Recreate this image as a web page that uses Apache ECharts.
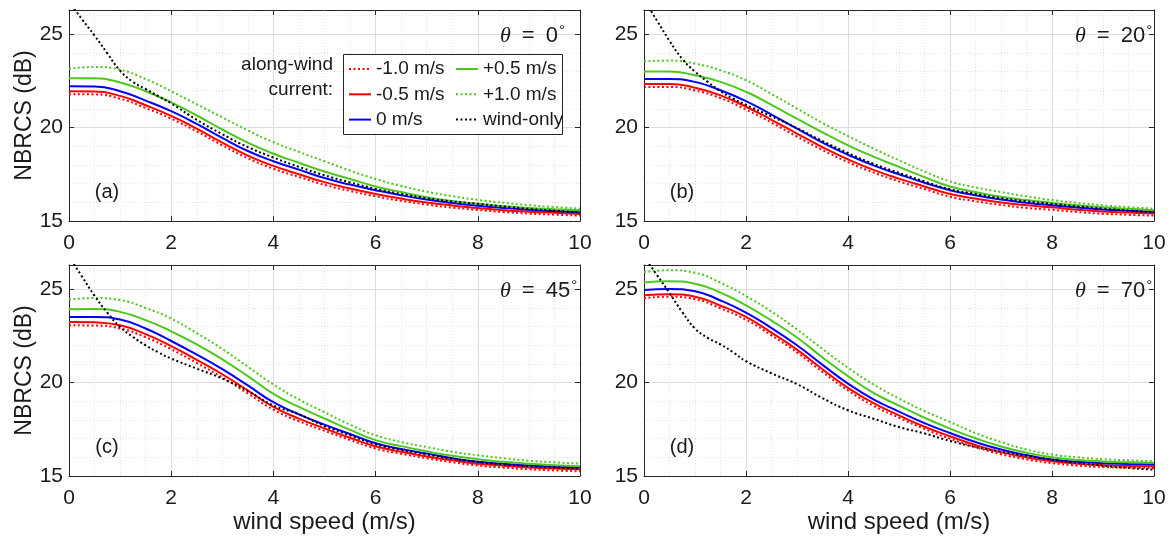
<!DOCTYPE html>
<html><head><meta charset="utf-8">
<script src="https://cdn.jsdelivr.net/npm/echarts@6/dist/echarts.min.js"></script>
<style>html,body{margin:0;padding:0;background:#fff}#c{width:1171px;height:544px}</style>
</head><body><div id="c"></div>
<script>
// ---------------- data ----------------
// x samples for the along-wind current curves
const windSpeed = [0,0.5,1,1.5,2,2.5,3,3.5,4,4.5,5,5.5,6,6.5,7,7.5,8,8.5,9,9.5,10];
// x samples for the wind-only curves (finer near the origin)
const windSpeedWO = [0,0.25,0.5,0.75,1,1.25,1.5,1.75,2,2.5,3,3.5,4,4.5,5,5.5,6,6.5,7,7.5,8,8.5,9,9.5,10];
const xTickStep = 2;
const yTickStep = 5;
const seriesNames = ['-1.0 m/s','-0.5 m/s','0 m/s','+0.5 m/s','+1.0 m/s','wind-only'];
const panelAngles = ['0','20','45','70'];
const panelLetters = ['(a)','(b)','(c)','(d)'];

// panel (a) theta = 0
const a_m10 = [21.79,21.78,21.55,21.05,20.48,19.8,19.05,18.36,17.8,17.36,16.94,16.61,16.32,16.08,15.88,15.72,15.59,15.48,15.4,15.34,15.29];
const a_m05 = [21.95,21.93,21.7,21.2,20.63,19.95,19.2,18.5,17.95,17.5,17.08,16.74,16.45,16.2,15.99,15.83,15.7,15.58,15.5,15.44,15.38];
const a_c0  = [22.21,22.2,21.95,21.45,20.88,20.2,19.45,18.75,18.2,17.75,17.3,16.95,16.65,16.38,16.15,15.97,15.82,15.7,15.6,15.53,15.47];
const a_p05 = [22.64,22.64,22.42,21.95,21.35,20.65,19.9,19.2,18.6,18.12,17.65,17.25,16.85,16.55,16.27,16.07,15.92,15.8,15.7,15.63,15.57];
const a_p10 = [23.16,23.25,23.1,22.6,21.95,21.25,20.55,19.85,19.22,18.7,18.2,17.7,17.25,16.88,16.57,16.33,16.13,15.98,15.85,15.75,15.66];
const a_wind = [26.75,25.82,24.93,23.98,23.05,22.45,22.07,21.68,21.3,20.42,19.65,18.96,18.4,17.9,17.45,17.07,16.72,16.45,16.22,16.05,15.92,15.78,15.65,15.55,15.45];

// panel (b) theta = 20
const b_m10 = [22.18,22.18,21.99,21.58,20.96,20.27,19.52,18.8,18.15,17.6,17.12,16.71,16.3,16.06,15.86,15.7,15.6,15.48,15.39,15.33,15.29];
const b_m05 = [22.34,22.34,22.14,21.73,21.12,20.42,19.68,18.95,18.3,17.74,17.27,16.85,16.45,16.2,15.99,15.84,15.73,15.6,15.51,15.45,15.4];
const b_c0  = [22.6,22.6,22.45,22.0,21.42,20.7,19.95,19.2,18.55,17.98,17.5,17.05,16.65,16.38,16.15,15.98,15.84,15.72,15.62,15.55,15.49];
const b_p05 = [23.0,23.01,22.8,22.45,21.92,21.22,20.48,19.75,19.05,18.45,17.9,17.35,16.85,16.55,16.3,16.12,15.97,15.84,15.73,15.65,15.58];
const b_p10 = [23.55,23.59,23.43,23.07,22.54,21.8,21.02,20.25,19.55,18.88,18.25,17.65,17.12,16.8,16.55,16.32,16.12,15.97,15.84,15.74,15.66];
const b_wind = [26.85,25.75,24.65,23.68,23.0,22.45,21.95,21.55,21.22,20.6,19.97,19.28,18.64,18.06,17.58,17.12,16.7,16.45,16.22,16.05,15.92,15.78,15.66,15.56,15.46];

// panel (c) theta = 45
const c_m10 = [23.07,23.06,22.9,22.43,21.79,21.05,20.28,19.42,18.55,17.93,17.42,16.93,16.47,16.19,15.95,15.74,15.56,15.45,15.36,15.3,15.25];
const c_m05 = [23.25,23.23,23.07,22.6,21.96,21.22,20.45,19.58,18.7,18.07,17.55,17.05,16.59,16.3,16.05,15.84,15.66,15.55,15.46,15.4,15.36];
const c_c0  = [23.52,23.52,23.38,22.9,22.23,21.5,20.72,19.85,18.95,18.3,17.75,17.25,16.75,16.45,16.2,15.95,15.76,15.65,15.56,15.5,15.45];
const c_p05 = [23.93,23.95,23.79,23.35,22.75,22.05,21.25,20.35,19.4,18.7,18.08,17.47,16.92,16.6,16.32,16.08,15.9,15.76,15.65,15.57,15.52];
const c_p10 = [24.45,24.53,24.42,24.0,23.43,22.65,21.8,20.85,19.9,19.1,18.42,17.75,17.18,16.82,16.55,16.3,16.11,15.95,15.82,15.73,15.66];
const c_wind = [26.75,25.7,24.65,23.75,22.98,22.45,22.0,21.62,21.29,20.75,20.22,19.55,18.78,18.3,17.68,17.18,16.7,16.4,16.15,15.93,15.75,15.62,15.52,15.45,15.4];

// panel (d) theta = 70
const d_m10 = [24.53,24.6,24.47,23.98,23.37,22.53,21.62,20.57,19.58,18.76,18.12,17.52,17.0,16.55,16.17,15.89,15.69,15.56,15.48,15.45,15.43];
const d_m05 = [24.68,24.73,24.6,24.12,23.52,22.68,21.77,20.72,19.72,18.9,18.25,17.64,17.13,16.66,16.28,15.99,15.79,15.66,15.58,15.54,15.52];
const d_c0  = [24.96,25.02,24.9,24.4,23.75,22.92,22.0,20.95,19.95,19.1,18.45,17.83,17.3,16.82,16.42,16.12,15.88,15.76,15.68,15.64,15.61];
const d_p05 = [25.36,25.43,25.3,24.82,24.14,23.32,22.42,21.35,20.35,19.45,18.77,18.12,17.54,17.02,16.58,16.25,16.0,15.86,15.78,15.73,15.7];
const d_p10 = [25.93,26.02,25.88,25.35,24.64,23.8,22.85,21.8,20.8,19.9,19.15,18.48,17.89,17.3,16.82,16.42,16.15,16.0,15.9,15.84,15.8];
const d_wind = [26.75,25.78,24.8,23.78,22.9,22.4,22.05,21.62,21.15,20.5,19.92,19.17,18.52,18.07,17.62,17.28,16.88,16.55,16.3,16.08,15.87,15.7,15.55,15.43,15.34];

const panels = [
  [a_m10,a_m05,a_c0,a_p05,a_p10,a_wind],
  [b_m10,b_m05,b_c0,b_p05,b_p10,b_wind],
  [c_m10,c_m05,c_c0,c_p05,c_p10,c_wind],
  [d_m10,d_m05,d_c0,d_p05,d_p10,d_wind]
];

// ---------------- styles / layout ----------------
const FONT = "'Liberation Sans', Arial, Helvetica, sans-serif";
const INK = '#1a1a1a';
const GREEN = '#4cc71b';
const seriesStyles = [
  {color:'#ff0000', dotted:true},
  {color:'#ff0000', dotted:false},
  {color:'#0000ff', dotted:false},
  {color:GREEN, dotted:false},
  {color:GREEN, dotted:true},
  {color:'#000000', dotted:true}
];
const gridPos = [
  {left:69, top:10, width:511, height:211},
  {left:644, top:10, width:510, height:211},
  {left:69, top:265, width:511, height:211},
  {left:644, top:265, width:510, height:211}
];
const Y_MIN = 15, Y_MAX = 26.3, X_MIN = 0, X_MAX = 10;

const xAxes = [], yAxes = [], series = [], graphics = [];
gridPos.forEach((g, i) => {
  const isLeft = i % 2 === 0, isBottom = i >= 2;
  xAxes.push({gridIndex:i, type:'value', min:X_MIN, max:X_MAX, interval:0.5, position:'bottom',
    axisLine:{show:false}, axisTick:{show:false}, axisLabel:{show:false},
    splitLine:{show:true, lineStyle:{color:'#e3e3e3', type:[1,2], width:1}}});
  xAxes.push({gridIndex:i, type:'value', min:X_MIN, max:X_MAX, interval:xTickStep, position:'bottom',
    name: isBottom ? 'wind speed (m/s)' : '', nameLocation:'middle', nameGap:34,
    nameTextStyle:{fontSize:24, color:INK, fontFamily:FONT},
    axisLine:{show:true, onZero:false, lineStyle:{color:'#262626', width:1}},
    axisTick:{show:true, inside:true, length:5, lineStyle:{color:'#262626'}},
    axisLabel:{show:true, fontSize:21, color:INK, margin:12, fontFamily:FONT},
    splitLine:{show:true, lineStyle:{color:'#dddddd', width:1}}});
  xAxes.push({gridIndex:i, type:'value', min:X_MIN, max:X_MAX, interval:xTickStep, position:'top',
    axisLine:{show:true, onZero:false, lineStyle:{color:'#262626', width:1}},
    axisTick:{show:true, inside:true, length:5, lineStyle:{color:'#262626'}},
    axisLabel:{show:false}, splitLine:{show:false}});
  yAxes.push({gridIndex:i, type:'value', min:Y_MIN, max:Y_MAX, interval:1, position:'left',
    axisLine:{show:false}, axisTick:{show:false}, axisLabel:{show:false},
    splitLine:{show:true, lineStyle:{color:'#e3e3e3', type:[1,2], width:1}}});
  yAxes.push({gridIndex:i, type:'value', min:Y_MIN, max:Y_MAX, interval:yTickStep, position:'left',
    name: isLeft ? 'NBRCS (dB)' : '', nameLocation:'middle', nameGap:33,
    nameTextStyle:{fontSize:23, color:INK, fontFamily:FONT},
    axisLine:{show:true, onZero:false, lineStyle:{color:'#262626', width:1}},
    axisTick:{show:true, inside:true, length:5, lineStyle:{color:'#262626'}},
    axisLabel:{show:true, fontSize:21, color:INK, margin:6, fontFamily:FONT,
      formatter: v => (Math.abs(v % yTickStep) < 1e-6 ? String(v) : '')},
    splitLine:{show:true, lineStyle:{color:'#dddddd', width:1}}});
  yAxes.push({gridIndex:i, type:'value', min:Y_MIN, max:Y_MAX, interval:yTickStep, position:'right',
    axisLine:{show:true, onZero:false, lineStyle:{color:'#262626', width:1}},
    axisTick:{show:true, inside:true, length:5, lineStyle:{color:'#262626'}},
    axisLabel:{show:false}, splitLine:{show:false}});

  panels[i].forEach((arr, s) => {
    const st = seriesStyles[s];
    const xs = (s === 5) ? windSpeedWO : windSpeed;
    series.push({
      type:'line', name: seriesNames[s],
      xAxisIndex: 3*i+1, yAxisIndex: 3*i+1,
      data: xs.map((x, k) => [x, arr[k]]),
      symbol:'none', smooth:0.5, clip:true, silent:true,
      lineStyle:{color:st.color, width:2, type: st.dotted ? [2,2.5] : 'solid'},
      itemStyle:{color:st.color},
      emphasis:{disabled:true}, z:3
    });
  });

  graphics.push({type:'text', z:10, x: g.left + 431, y: g.top + 26,
    style:{text:'{t|θ}{n|\u2002=\u2002' + panelAngles[i] + '}{s|°}', align:'left', verticalAlign:'middle',
      fill:INK, font:'22px ' + FONT,
      rich:{ t:{fontSize:22, fontStyle:'italic', fontFamily:"'Liberation Serif', 'DejaVu Serif', serif", fill:INK, lineHeight:26},
             n:{fontSize:22, fontFamily:FONT, fill:INK, lineHeight:26},
             s:{fontSize:15, fontFamily:FONT, fill:INK, verticalAlign:'top', lineHeight:14, padding:[0,0,0,1]} }}});
  graphics.push({type:'text', z:10, x: g.left + 38, y: g.top + 182,
    style:{text: panelLetters[i], align:'center', verticalAlign:'middle', fill:INK, font:'20px ' + FONT}});
});

graphics.push({type:'rect', z:1, shape:{x:343.5, y:54.5, width:219, height:80},
  style:{fill:'#ffffff', stroke:'#262626', lineWidth:1}});
graphics.push({type:'text', z:10, x:333, y:65, style:{text:'along-wind', align:'right', verticalAlign:'middle', fill:INK, font:'19px ' + FONT}});
graphics.push({type:'text', z:10, x:333, y:90, style:{text:'current:', align:'right', verticalAlign:'middle', fill:INK, font:'19px ' + FONT}});

const legendCommon = {orient:'vertical', padding:0, itemGap:5.3, itemWidth:22, itemHeight:14,
  selectedMode:false, z:5, itemStyle:{opacity:0, borderWidth:0},
  textStyle:{fontSize:19, color:INK, fontFamily:FONT, lineHeight:20}};

const option = {
  animation:false,
  backgroundColor:'#ffffff',
  grid: gridPos.map(g => ({left:g.left, top:g.top, width:g.width, height:g.height, show:false})),
  xAxis: xAxes,
  yAxis: yAxes,
  legend: [
    Object.assign({}, legendCommon, {left:348, top:59, data: seriesNames.slice(0,3)}),
    Object.assign({}, legendCommon, {left:455, top:59, data: seriesNames.slice(3,6)})
  ],
  graphic: graphics,
  series: series
};
const chart = echarts.init(document.getElementById('c'), null, {renderer:'canvas'});
chart.setOption(option);
</script></body></html>
